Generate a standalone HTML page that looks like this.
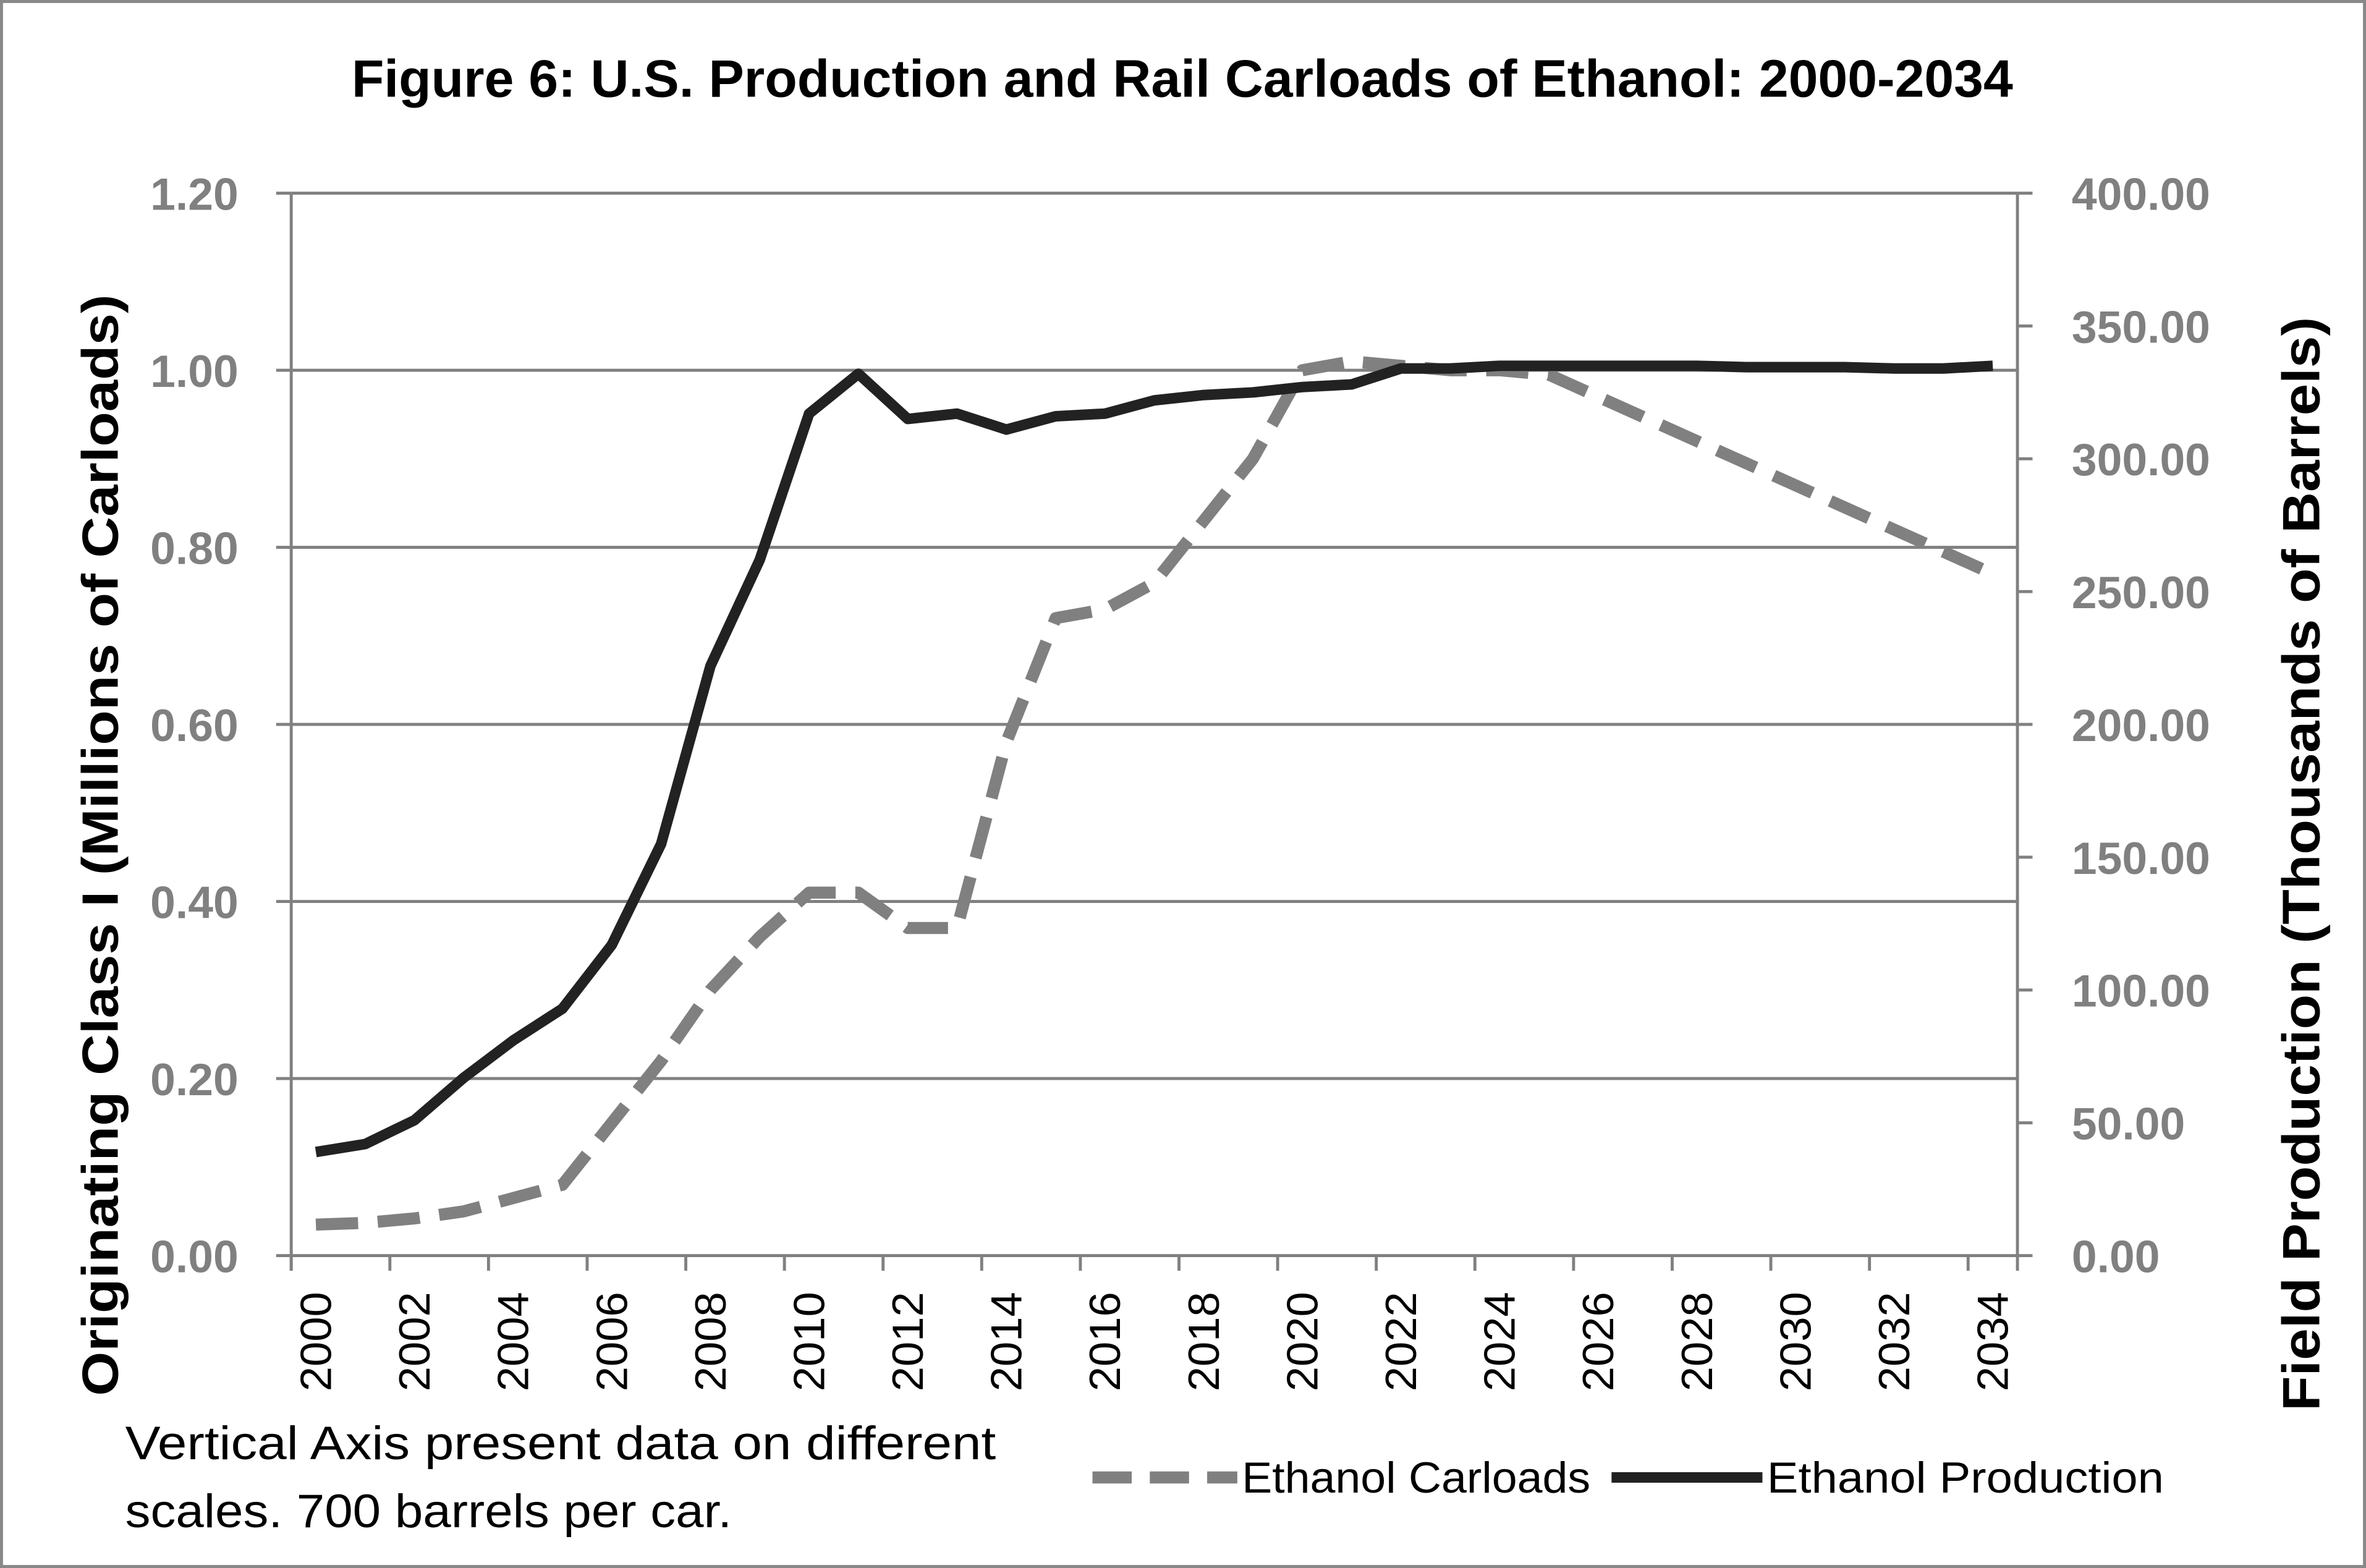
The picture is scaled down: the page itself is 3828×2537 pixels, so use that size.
<!DOCTYPE html>
<html><head><meta charset="utf-8"><style>
html,body{margin:0;padding:0;background:#fff}
svg{display:block}
text{font-family:"Liberation Sans",sans-serif}
</style></head><body>
<svg id="chart" width="3828" height="2537" viewBox="0 0 1568 1039" preserveAspectRatio="none" xmlns="http://www.w3.org/2000/svg">
<rect x="1" y="1" width="1566" height="1037" fill="#fff" stroke="#888" stroke-width="2"/>
<text x="233" y="64" textLength="1101" lengthAdjust="spacingAndGlyphs" font-size="35" font-weight="bold">Figure 6: U.S. Production and Rail Carloads of Ethanol: 2000-2034</text>
<g id="grid"></g>
<g id="axes"></g>
<g id="series"></g>
<text transform="translate(78,925) rotate(-90)" textLength="730" lengthAdjust="spacingAndGlyphs" font-size="34" font-weight="bold">Originating Class I (Millions of Carloads)</text>
<text transform="translate(1537,935) rotate(-90)" textLength="725" lengthAdjust="spacingAndGlyphs" font-size="35" font-weight="bold">Field Production (Thousands of Barrels)</text>
<text font-size="31" fill="#000"><tspan x="83" y="967" textLength="577" lengthAdjust="spacingAndGlyphs">Vertical Axis present data on different</tspan><tspan x="83" y="1012" textLength="402" lengthAdjust="spacingAndGlyphs">scales. 700 barrels per car.</tspan></text>
<g>
<line x1="724" y1="979" x2="820" y2="979" stroke="#808080" stroke-width="8" stroke-dasharray="26,12"/>
<text x="823" y="989" textLength="231" lengthAdjust="spacingAndGlyphs" font-size="29">Ethanol Carloads</text>
<line x1="1068" y1="979" x2="1168" y2="979" stroke="#222" stroke-width="7"/>
<text x="1171" y="989" textLength="263" lengthAdjust="spacingAndGlyphs" font-size="29">Ethanol Production</text>
</g>
</svg>
<script>
const years=[];for(let y=2000;y<=2034;y++)years.push(y);
const carloads=[0.035,0.037,0.042,0.05,0.065,0.08,0.15,0.22,0.30,0.36,0.41,0.41,0.37,0.37,0.58,0.72,0.73,0.76,0.83,0.90,1.00,1.01,1.005,1.00,1.00,0.995,0.97,0.945,0.92,0.895,0.87,0.845,0.82,0.795,0.77];
const production=[39,42,51,67,81,93,117,155,222,262,317,332,315,317,311,316,317,322,324,325,327,328,334,334,335,335,335,335,335,334.5,334.5,334.5,334,334,335];
const leftTicks=["0.00","0.20","0.40","0.60","0.80","1.00","1.20"];
const rightTicks=["0.00","50.00","100.00","150.00","200.00","250.00","300.00","350.00","400.00"];
const NS="http://www.w3.org/2000/svg";
const L=193,R=1337,T=128,B=832;
const cw=(R-L)/years.length;
const xs=i=>L+cw*(i+0.5);
const yl=v=>B-(v/1.2)*(B-T);
const yr=v=>B-(v/400)*(B-T);
function mk(tag,attrs,parent,txt){const e=document.createElementNS(NS,tag);for(const k in attrs)e.setAttribute(k,attrs[k]);if(txt!==undefined)e.textContent=txt;parent.appendChild(e);return e;}
const grid=document.getElementById('grid'),axes=document.getElementById('axes'),ser=document.getElementById('series');
leftTicks.forEach(t=>{const v=parseFloat(t),y=yl(v);
 if(v>0){const g=mk('line',{x1:L,x2:R,y1:y,y2:y,stroke:'#808080','stroke-width':2},grid);
 
 }
 const tk=mk('line',{x1:L-10,x2:L,y1:y,y2:y,stroke:'#808080','stroke-width':2},axes);
 
 
 const tx=mk('text',{x:158,y:y+11,'text-anchor':'end','font-size':30,'font-weight':'bold',fill:'#808080'},axes,t);
 
 
});
rightTicks.forEach(t=>{const v=parseFloat(t),y=yr(v);
 const tk=mk('line',{x1:R,x2:R+10,y1:y,y2:y,stroke:'#808080','stroke-width':2},axes);
 
 
 const tx=mk('text',{x:1373,y:y+11,'font-size':30,'font-weight':'bold',fill:'#808080'},axes,t);
 
 
});
let a=mk('line',{x1:L,x2:L,y1:T,y2:B+10,stroke:'#808080','stroke-width':2},axes);


a=mk('line',{x1:R,x2:R,y1:T,y2:B+10,stroke:'#808080','stroke-width':2},axes);


a=mk('line',{x1:L,x2:R,y1:B,y2:B,stroke:'#808080','stroke-width':2},axes);


for(let i=0;i<=years.length;i+=2){const x=L+cw*i;
 const tk=mk('line',{x1:x,x2:x,y1:B,y2:B+10,stroke:'#808080','stroke-width':2},axes);
 
 }
years.forEach((y,i)=>{if(y%2)return;const x=xs(i)+10;
 const tx=mk('text',{transform:`translate(${x},856) rotate(-90)`,'text-anchor':'end','font-size':29,textLength:66,lengthAdjust:'spacingAndGlyphs',fill:'#000'},axes,String(y));
 
 });
const p1=mk('polyline',{points:carloads.map((v,i)=>xs(i)+','+yl(v)).join(' '),fill:'none',stroke:'#808080','stroke-width':8,'stroke-dasharray':'28,13','stroke-linejoin':'round'},ser);


const p2=mk('polyline',{points:production.map((v,i)=>xs(i)+','+yr(v)).join(' '),fill:'none',stroke:'#222','stroke-width':7,'stroke-linejoin':'round'},ser);


</script>
</body></html>
